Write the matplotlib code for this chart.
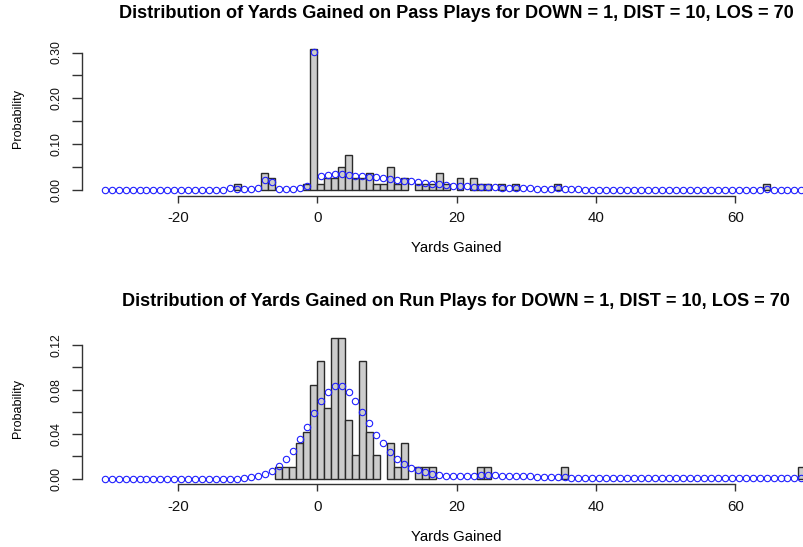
import matplotlib
matplotlib.use('Agg')
from matplotlib import pyplot as plt
import numpy as np

plt.rcParams['font.family'] = ['Liberation Sans', 'DejaVu Sans']

# yards gained (right edge of each 1-yard bin) and observed probability
pass_yards = [-11, -7, -6, -1, 0, 1, 2, 3, 4, 5, 6, 7, 8, 9, 10, 11, 12, 13,
              15, 16, 17, 18, 19, 21, 23, 24, 25, 27, 29, 35, 65]
pass_prob = [0.0128, 0.0385, 0.0256, 0.0128, 0.3077, 0.0128, 0.0256, 0.0256,
             0.0513, 0.0769, 0.0256, 0.0256, 0.0385, 0.0128, 0.0128, 0.0513,
             0.0128, 0.0256, 0.0128, 0.0128, 0.0128, 0.0385, 0.0128, 0.0256,
             0.0256, 0.0128, 0.0128, 0.0128, 0.0128, 0.0128, 0.0128]

run_yards = [-5, -4, -3, -2, -1, 0, 1, 2, 3, 4, 5, 6, 7, 8, 9, 11, 12, 13,
             15, 16, 17, 24, 25, 36, 70]
run_prob = [0.0105, 0.0105, 0.0105, 0.0316, 0.0421, 0.0842, 0.1053, 0.0632,
            0.1263, 0.1263, 0.0526, 0.0211, 0.1053, 0.0421, 0.0211, 0.0316,
            0.0105, 0.0316, 0.0105, 0.0105, 0.0105, 0.0105, 0.0105, 0.0105,
            0.0105]

# model estimate for every bin from -30 to 70
model_yards = list(range(-30, 71))
pass_model = [
    0, 0, 0, 0, 0, 0, 0, 0, 0, 0, 0, 0, 0, 0, 0, 0, 0, 0,
    0.005, 0.002, 0.002, 0.003, 0.005, 0.022, 0.017, 0.003, 0.003, 0.003,
    0.004, 0.009, 0.301, 0.030, 0.034, 0.036, 0.036, 0.034, 0.032, 0.030,
    0.029, 0.028, 0.026, 0.024, 0.022, 0.021, 0.019, 0.017, 0.015, 0.014,
    0.013, 0.012, 0.010, 0.009, 0.009, 0.008, 0.007, 0.0065, 0.006, 0.005,
    0.005, 0.005, 0.004, 0.004, 0.003, 0.003, 0.003, 0.004, 0.002, 0.002,
    0.002, 0.001,
    0.001, 0.001, 0.001, 0.001, 0.001, 0.001, 0.001, 0.001, 0.001, 0.001,
    0.001, 0.001, 0.001, 0.001, 0.001, 0.001, 0.001, 0.001, 0.001, 0.001,
    0.001, 0.001, 0.001, 0.001, 0.001, 0.002, 0.001, 0.001, 0.001, 0.001,
    0.001]
run_model = [
    0, 0, 0, 0, 0, 0, 0, 0, 0, 0, 0, 0, 0, 0, 0, 0, 0, 0, 0, 0,
    0.001, 0.0015, 0.002, 0.0045, 0.0072, 0.0114, 0.0174, 0.0251, 0.0353,
    0.0461, 0.0589, 0.070, 0.078, 0.0832, 0.0832, 0.078, 0.070, 0.060,
    0.0497, 0.0395, 0.0317, 0.0236, 0.0177, 0.0132, 0.0096, 0.0075, 0.006,
    0.0045, 0.0033, 0.0027, 0.0027, 0.0027, 0.0027, 0.0027, 0.0036, 0.0036,
    0.003, 0.0027, 0.0025, 0.0022, 0.002, 0.002, 0.0018, 0.0015, 0.0015,
    0.0012, 0.0015, 0.001, 0.001, 0.001, 0.0009, 0.0008, 0.0008, 0.0007,
    0.0007, 0.0006, 0.0006, 0.0006, 0.0005, 0.0005, 0.0005, 0.0005, 0.0005,
    0.0005, 0.0005, 0.0005, 0.0005, 0.0005, 0.0005, 0.0005, 0.0005, 0.0005,
    0.0005, 0.0005, 0.0005, 0.0005, 0.0005, 0.0005, 0.0005, 0.0005, 0.001]

titles = ['Distribution of Yards Gained on Pass Plays for DOWN = 1, DIST = 10, LOS = 70',
          'Distribution of Yards Gained on Run Plays for DOWN = 1, DIST = 10, LOS = 70']
x_ticks = [-20, 0, 20, 40, 60]
pass_yticks = [0.0, 0.05, 0.10, 0.15, 0.20, 0.25, 0.30]
pass_ylabels = ['0.00', '', '0.10', '', '0.20', '', '0.30']
run_yticks = [0.0, 0.02, 0.04, 0.06, 0.08, 0.10, 0.12]
run_ylabels = ['0.00', '', '0.04', '', '0.08', '', '0.12']

fig = plt.figure(figsize=(8.04, 5.47), dpi=100)
fig.patch.set_facecolor('white')

ax1 = fig.add_axes([0.1016, 0.642, 0.9307, 0.2787])
ax2 = fig.add_axes([0.1016, 0.1146, 0.9307, 0.2779])

panels = [
    (ax1, pass_yards, pass_prob, pass_model, pass_yticks, pass_ylabels, (-0.0123, 0.320)),
    (ax2, run_yards, run_prob, run_model, run_yticks, run_ylabels, (-0.00505, 0.1314)),
]

for ax, yards, prob, model, yt, yl, ylim in panels:
    ax.bar(yards, prob, width=-1, align='edge', color='#cccccc',
           edgecolor='#2a2a2a', linewidth=1.0, zorder=2)
    ax.plot(np.array(model_yards) - 0.5, model, 'o', mfc='none', mec='#1f1fff',
            ms=4.6, mew=0.8, zorder=3)
    ax.set_xlim(-33.8, 73.6)
    ax.set_ylim(*ylim)
    for s in ['top', 'right']:
        ax.spines[s].set_visible(False)
    ax.spines['left'].set_bounds(yt[0], yt[-1])
    ax.spines['bottom'].set_bounds(x_ticks[0], x_ticks[-1])
    for s in ['left', 'bottom']:
        ax.spines[s].set_color('#333333')
        ax.spines[s].set_linewidth(1.0)
    ax.set_xticks(x_ticks)
    ax.set_xticklabels([str(t) for t in x_ticks])
    ax.set_yticks(yt)
    ax.set_yticklabels(yl, rotation=90, va='center')
    ax.tick_params(axis='x', length=5, width=1, color='#333333', pad=6,
                   labelsize=10.8, labelcolor='#111111')
    ax.tick_params(axis='y', length=7, width=1, color='#333333', pad=7,
                   labelsize=8.8, labelcolor='#111111')
    ax.patch.set_alpha(0)

fig.text(456 / 804, 1 - 13 / 547, titles[0], ha='center', va='center',
         fontsize=13.1, fontweight='bold')
fig.text(456 / 804, 1 - 302 / 547, titles[1], ha='center', va='center',
         fontsize=13.1, fontweight='bold')
fig.text(456 / 804, 1 - 248 / 547, 'Yards Gained', ha='center', va='center',
         fontsize=10.8)
fig.text(456 / 804, 1 - 537 / 547, 'Yards Gained', ha='center', va='center',
         fontsize=10.8)
fig.text(18 / 804, 1 - 119 / 547, 'Probability', ha='center', va='center',
         rotation=90, fontsize=9)
fig.text(18 / 804, 1 - 408 / 547, 'Probability', ha='center', va='center',
         rotation=90, fontsize=9)

fig.savefig('out.png', dpi=100)
